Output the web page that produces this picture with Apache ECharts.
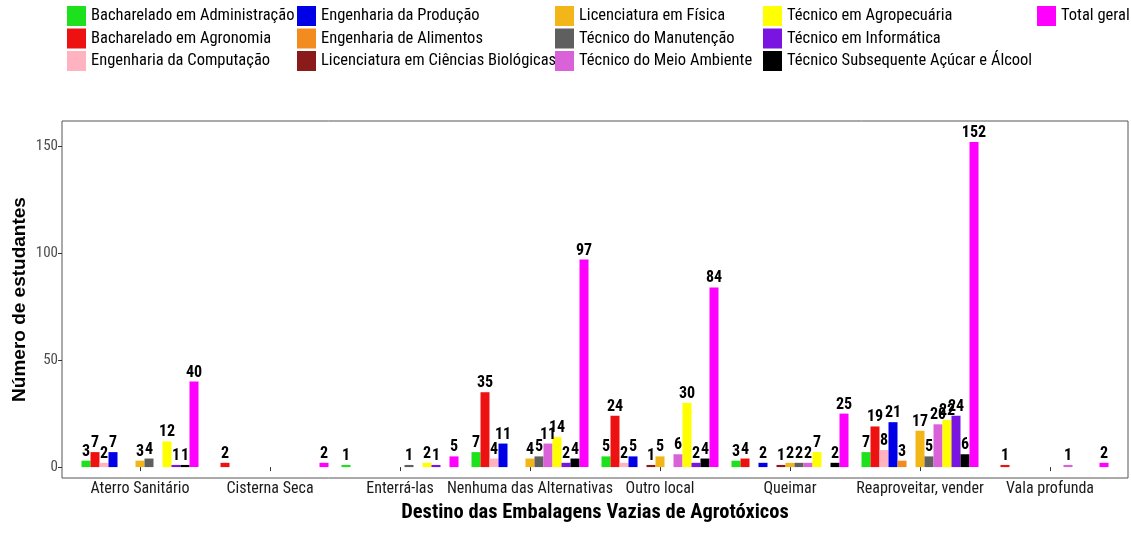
<!DOCTYPE html>
<html>
<head>
<meta charset="utf-8">
<script src="https://cdn.jsdelivr.net/npm/echarts@6/dist/echarts.min.js"></script>
<style>
html, body { margin: 0; padding: 0; background: #fff; }
#chart { width: 1131px; height: 539px; }
</style>
</head>
<body>
<div id="chart"></div>
<script>
// Destination of empty pesticide packaging, by course
const categories = ['Aterro Sanitário', 'Cisterna Seca', 'Enterrá-las', 'Nenhuma das Alternativas',
  'Outro local', 'Queimar', 'Reaproveitar, vender', 'Vala profunda'];

const courses = [
  'Bacharelado em Administração', 'Bacharelado em Agronomia', 'Engenharia da Computação',
  'Engenharia da Produção', 'Engenharia de Alimentos', 'Licenciatura em Ciências Biológicas',
  'Licenciatura em Física', 'Técnico do Manutenção', 'Técnico do Meio Ambiente',
  'Técnico em Agropecuária', 'Técnico em Informática', 'Técnico Subsequente Açúcar e Álcool',
  'Total geral'
];

// null: nobody from that course chose that destination
const administracao = [3, null, 1, 7, 5, 3, 7, null];
const agronomia     = [7, 2, null, 35, 24, 4, 19, 1];
const computacao    = [2, null, null, 4, 2, null, 8, null];
const producao      = [7, null, null, 11, 5, 2, 21, null];
const alimentos     = [null, null, null, null, null, null, 3, null];
const biologicas    = [null, null, null, null, 1, 1, null, null];
const fisica        = [3, null, null, 4, 5, 2, 17, null];
const manutencao    = [4, null, 1, 5, null, 2, 5, null];
const meioAmbiente  = [null, null, null, 11, 6, 2, 20, 1];
const agropecuaria  = [12, null, 2, 14, 30, 7, 22, null];
const informatica   = [1, null, 1, 2, 2, null, 24, null];
const subsequente   = [1, null, null, 4, 4, 2, 6, null];
const totalGeral    = [40, 2, 5, 97, 84, 25, 152, 2];

const yTicks = [0, 50, 100, 150];

const courseValues = [administracao, agronomia, computacao, producao, alimentos, biologicas,
  fisica, manutencao, meioAmbiente, agropecuaria, informatica, subsequente, totalGeral];

const colors = ['#1EE11E', '#EE1111', '#FFB3C0', '#0000E6', '#F28C1E', '#8B1A1A',
  '#F2B619', '#5F5F5F', '#DA62D8', '#FFFF00', '#7A14E0', '#000000', '#FF00FF'];

const NARROW = "'Liberation Sans Narrow', 'Arial Narrow', 'Roboto Condensed', 'Liberation Sans', Arial, sans-serif";
const WIDE = "'Liberation Sans', Arial, sans-serif";

const Y_MIN = -5.1;
const Y_MAX = 161.8;

const series = courses.map((name, i) => ({
  name: name,
  type: 'bar',
  xAxisIndex: 0,
  yAxisIndex: 0,
  data: courseValues[i],
  barGap: 0,
  barCategoryGap: '10%',
  itemStyle: { color: colors[i] },
  label: {
    show: true,
    position: 'top',
    distance: 1,
    fontFamily: NARROW,
    fontWeight: 'bold',
    fontSize: 16,
    color: '#000'
  }
}));

// legend laid out in five columns of three entries
const legendColumns = [[0, 1, 2], [3, 4, 5], [6, 7, 8], [9, 10, 11], [12]];
const legendLefts = [67, 297, 555, 763, 1037];
const legends = legendColumns.map((idx, c) => ({
  orient: 'vertical',
  left: legendLefts[c],
  top: 6,
  padding: 0,
  itemWidth: 19,
  itemHeight: 20,
  itemGap: 2.5,
  icon: 'rect',
  selectedMode: false,
  data: idx.map(i => courses[i]),
  textStyle: { fontFamily: NARROW, fontSize: 16.5, color: '#000' }
}));

const chart = echarts.init(document.getElementById('chart'), null, { renderer: 'canvas' });
chart.setOption({
  animation: false,
  backgroundColor: '#fff',
  color: colors,
  legend: legends,
  grid: [
    // data area: categories spaced so the panel keeps extra room at both ends
    { left: 75, right: 16, top: 121, bottom: 61 },
    // panel frame
    { left: 62, right: 3, top: 121, bottom: 61, show: true, borderColor: '#555', borderWidth: 1,
      backgroundColor: 'transparent' }
  ],
  xAxis: [
    {
      gridIndex: 0,
      type: 'category',
      data: categories,
      name: 'Destino das Embalagens Vazias de Agrotóxicos',
      nameLocation: 'middle',
      nameGap: 21,
      nameTextStyle: { fontFamily: NARROW, fontWeight: 'bold', fontSize: 20.5, color: '#000' },
      axisLine: { show: false },
      axisTick: { show: true, alignWithLabel: true, length: 4, lineStyle: { color: '#333' } },
      axisLabel: { interval: 0, fontFamily: NARROW, fontSize: 16, color: '#1a1a1a', margin: 3 }
    },
    { gridIndex: 1, type: 'value', show: false }
  ],
  yAxis: [
    {
      gridIndex: 0,
      type: 'value',
      min: Y_MIN,
      max: Y_MAX,
      name: 'Número de estudantes',
      nameLocation: 'middle',
      nameRotate: 90,
      nameGap: 46,
      nameTextStyle: { fontFamily: WIDE, fontWeight: 'bold', fontSize: 19, color: '#000' },
      splitLine: { show: false },
      axisLine: { show: false },
      axisTick: { show: false },
      axisLabel: { show: false }
    },
    {
      gridIndex: 1,
      type: 'value',
      min: Y_MIN,
      max: Y_MAX,
      splitLine: { show: false },
      axisLine: { show: false },
      axisTick: { show: true, length: 4, customValues: yTicks, lineStyle: { color: '#333' } },
      axisLabel: { customValues: yTicks, fontFamily: NARROW, fontSize: 15, color: '#4D4D4D', margin: 4 }
    }
  ],
  series: series
});
</script>
</body>
</html>
